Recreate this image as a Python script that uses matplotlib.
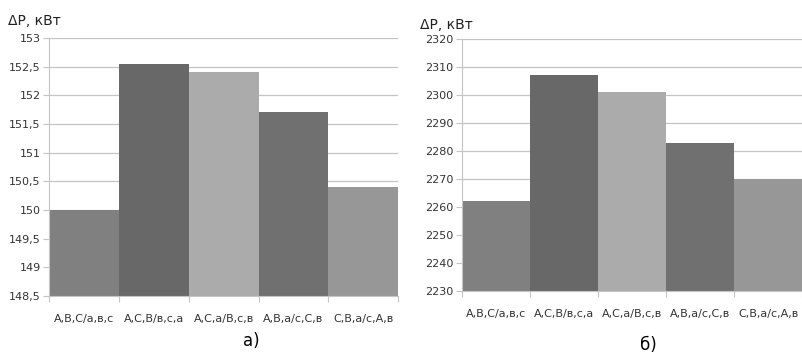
import matplotlib.pyplot as plt

categories = ["А,В,С/а,в,с", "А,С,В/в,с,а", "А,С,а/В,с,в", "А,В,а/с,С,в", "С,В,а/с,А,в"]
values_a = [150.0, 152.54, 152.4, 151.7, 150.4]
values_b = [2262, 2307, 2301, 2282.7, 2270]
bar_colors = ["#808080", "#686868", "#ababab", "#707070", "#979797"]

plt.rcParams["font.family"] = ["Liberation Sans Narrow", "DejaVu Sans"]

fig = plt.figure(figsize=(8.03, 3.57), dpi=100)
ax1 = fig.add_axes([0.061, 0.171, 0.435, 0.723])
ax2 = fig.add_axes([0.575, 0.185, 0.424, 0.706])


def draw(ax, values, ylim, step, fmt):
    x = range(len(values))
    ax.bar(x, [v - ylim[0] for v in values], bottom=ylim[0], width=1.0,
           color=bar_colors, zorder=2)
    ax.set_xlim(-0.5, len(values) - 0.5)
    ax.set_ylim(*ylim)
    ticks = []
    t = ylim[0]
    while t <= ylim[1] + 1e-9:
        ticks.append(t)
        t += step
    ax.set_yticks(ticks)
    ax.set_yticklabels([fmt(t) for t in ticks], fontsize=8, color="#333333")
    ax.yaxis.grid(True, color="#c4c4c4", linewidth=0.9, zorder=0)
    ax.set_xticks([i - 0.5 for i in range(len(values) + 1)])
    ax.set_xticklabels([])
    ax.set_xticks(list(x), minor=True)
    ax.set_xticklabels(categories, minor=True, fontsize=8, color="#333333")
    ax.tick_params(axis="x", which="minor", length=0, pad=13)
    ax.tick_params(axis="x", which="major", length=4, color="#c4c4c4")
    ax.tick_params(axis="y", length=4, color="#c4c4c4", pad=2)
    for s in ["top", "right"]:
        ax.spines[s].set_visible(False)
    for s in ["left", "bottom"]:
        ax.spines[s].set_color("#c4c4c4")


draw(ax1, values_a, (148.5, 153), 0.5, lambda t: f"{t:g}".replace(".", ","))
draw(ax2, values_b, (2230, 2320), 10, lambda t: f"{t:g}")

fig.text(0.010, 0.93, "ΔP, кВт", fontsize=10, color="#222222")
fig.text(0.523, 0.92, "ΔP, кВт", fontsize=10, color="#222222")
fig.text(0.313, 0.03, "а)", fontsize=12, ha="center")
fig.text(0.807, 0.02, "б)", fontsize=12, ha="center")

fig.savefig("out.png", dpi=100)
